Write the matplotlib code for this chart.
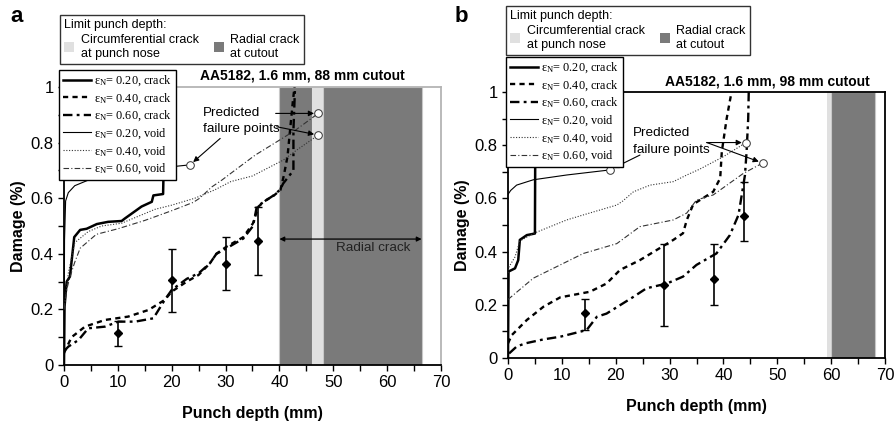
import matplotlib
matplotlib.use("Agg")
import matplotlib.pyplot as plt
from matplotlib.lines import Line2D
from matplotlib.patches import Patch
from matplotlib.ticker import MultipleLocator

plt.rcParams['font.family'] = ['Liberation Sans', 'DejaVu Sans']
plt.rcParams['mathtext.fontset'] = 'custom'
plt.rcParams['mathtext.rm'] = 'Liberation Serif'
plt.rcParams['mathtext.it'] = 'Liberation Serif:italic'

# ---------------- Panel a data (88 mm cutout) ----------------
a_crack20_x = [0, 0.1, 0.5, 1.1, 1.9, 3.0, 4.2, 6.1, 8.2, 10.7, 11.3, 14.4, 16.3, 16.6, 18.4, 18.6, 18.7]
a_crack20_y = [0, 0.21, 0.30, 0.318, 0.46, 0.486, 0.49, 0.507, 0.515, 0.518, 0.527, 0.57, 0.587, 0.61, 0.615, 0.80, 1.0]
a_crack40_x = [0, 1.4, 3.9, 7.6, 11.9, 15.7, 18.7, 20, 22.8, 25, 27.1, 28.3, 30.2, 33.3, 35.1, 36.1, 37.6, 39, 40.2, 40.8, 41.5, 42.0, 42.5, 42.8]
a_crack40_y = [0.043, 0.10, 0.138, 0.162, 0.174, 0.198, 0.234, 0.264, 0.30, 0.324, 0.366, 0.40, 0.426, 0.46, 0.51, 0.57, 0.594, 0.61, 0.63, 0.68, 0.75, 0.85, 0.95, 1.0]
a_crack60_x = [0, 0.8, 2.7, 4.5, 7.6, 10.1, 13.2, 16.6, 18.7, 20, 22.8, 25, 27.1, 28.3, 30.2, 33.3, 35.1, 35.8, 38.9, 40.1, 40.7, 42.6, 42.6, 42.9]
a_crack60_y = [0.05, 0.066, 0.09, 0.132, 0.138, 0.156, 0.156, 0.168, 0.234, 0.27, 0.31, 0.33, 0.366, 0.40, 0.42, 0.455, 0.50, 0.57, 0.61, 0.63, 0.653, 0.70, 0.845, 1.0]
a_void20_x = [0, 0.1, 0.3, 0.8, 2, 4.5, 10.7, 16.9, 23.4]
a_void20_y = [0, 0.45, 0.59, 0.62, 0.645, 0.665, 0.687, 0.707, 0.72]
a_void40_x = [0, 0.3, 0.8, 2, 4.5, 7, 10.7, 16.9, 20, 24.3, 28, 31, 35, 37, 40.7, 43.2, 47.2]
a_void40_y = [0.2, 0.25, 0.33, 0.44, 0.48, 0.50, 0.51, 0.56, 0.575, 0.60, 0.63, 0.66, 0.68, 0.70, 0.737, 0.773, 0.827]
a_void60_x = [0, 0.5, 1, 2, 3, 6, 10, 15, 20, 24, 25.2, 27.4, 29.3, 31.7, 35.5, 40.1, 43, 47.2]
a_void60_y = [0.2, 0.27, 0.31, 0.37, 0.42, 0.47, 0.49, 0.52, 0.555, 0.585, 0.60, 0.64, 0.665, 0.70, 0.755, 0.81, 0.845, 0.905]
a_exp_x = [10, 20, 30, 36]
a_exp_y = [0.114, 0.306, 0.364, 0.447]
a_exp_lo = [0.068, 0.19, 0.27, 0.323]
a_exp_hi = [0.16, 0.418, 0.462, 0.57]
a_fail_x = [23.4, 47.2, 47.2]
a_fail_y = [0.72, 0.905, 0.827]
a_radial_band = [(40, 46), (48, 66.4)]
a_circ_band = [(46, 48)]

# ---------------- Panel b data (98 mm cutout) ----------------
b_crack20_x = [0, 0.1, 1.3, 1.9, 2.2, 3.5, 5.0, 5.1]
b_crack20_y = [0, 0.325, 0.337, 0.368, 0.444, 0.462, 0.468, 1.0]
b_crack40_x = [0, 0.7, 3.5, 6.6, 9.7, 15.2, 18.3, 20.8, 24.5, 27.6, 30.7, 32.5, 33.2, 34.4, 38.1, 39.4, 39.7, 40.6, 41.5]
b_crack40_y = [0.055, 0.086, 0.143, 0.193, 0.228, 0.249, 0.28, 0.331, 0.368, 0.406, 0.444, 0.469, 0.519, 0.578, 0.625, 0.676, 0.776, 0.90, 1.0]
b_crack60_x = [0.2, 1.6, 3.2, 6.6, 9.7, 14.6, 16.5, 18.3, 23.3, 25.7, 29.5, 32.5, 35, 38.7, 41.2, 42.8, 43.4, 44, 44.3, 44.6, 44.7]
b_crack60_y = [0.017, 0.043, 0.055, 0.07, 0.08, 0.105, 0.155, 0.167, 0.23, 0.262, 0.28, 0.306, 0.35, 0.393, 0.462, 0.538, 0.613, 0.688, 0.776, 0.90, 1.0]
b_void20_x = [0, 0.5, 1.6, 4.7, 10.9, 18.9]
b_void20_y = [0.615, 0.63, 0.65, 0.67, 0.688, 0.707]
b_void40_x = [0, 0.2, 1.3, 2.2, 4.7, 10.9, 14, 20.2, 21.3, 23.3, 26.4, 30.7, 33.2, 35.6, 40, 44.2]
b_void40_y = [0.32, 0.343, 0.38, 0.44, 0.468, 0.519, 0.538, 0.575, 0.59, 0.625, 0.65, 0.663, 0.688, 0.71, 0.757, 0.81]
b_void60_x = [0, 4.7, 9, 14, 20.2, 24.5, 30.7, 33.2, 35, 38.1, 43.7, 47.3]
b_void60_y = [0.22, 0.30, 0.343, 0.393, 0.43, 0.494, 0.519, 0.545, 0.594, 0.613, 0.694, 0.733]
b_exp_x = [14.35, 29.0, 38.3, 43.8]
b_exp_y = [0.17, 0.274, 0.296, 0.535]
b_exp_lo = [0.105, 0.12, 0.20, 0.439]
b_exp_hi = [0.22, 0.43, 0.427, 0.663]
b_fail_x = [18.9, 44.2, 47.3]
b_fail_y = [0.707, 0.81, 0.733]
b_radial_band = [(60, 68.1)]
b_circ_band = [(59.3, 60)]

labels = [r'ε$_{\mathrm{N}}$= 0.20, crack', r'ε$_{\mathrm{N}}$= 0.40, crack', r'ε$_{\mathrm{N}}$= 0.60, crack',
          r'ε$_{\mathrm{N}}$= 0.20, void', r'ε$_{\mathrm{N}}$= 0.40, void', r'ε$_{\mathrm{N}}$= 0.60, void']

DARK = '#7a7a7a'
LIGHT = '#e0e0e0'

styles = [
    dict(color='k', lw=1.8, ls='-'),
    dict(color='k', lw=1.7, ls=(0, (2.2, 1.8))),
    dict(color='k', lw=1.7, ls=(0, (4, 1.8, 1.2, 1.8))),
    dict(color='k', lw=0.8, ls='-'),
    dict(color='#333333', lw=0.8, ls=(0, (1, 1.5))),
    dict(color='#333333', lw=0.8, ls=(0, (5, 2, 1, 2))),
]

fig = plt.figure(figsize=(8.94, 4.25), dpi=100)
axa = fig.add_axes([64/894, 1-365/425, 377/894, 278/425])
axb = fig.add_axes([508/894, 1-358/425, 377/894, 266/425])


def draw(ax, series, exp, fail, radial, circ, spine_color, xpad):
    for lo, hi in radial:
        ax.axvspan(lo, hi, facecolor=DARK, edgecolor='#c8c8c8', lw=0.8, zorder=0)
    for lo, hi in circ:
        ax.axvspan(lo, hi, facecolor=LIGHT, edgecolor='none', zorder=0)
    for (x, y), st in zip(series, styles):
        ax.plot(x, y, zorder=3, **st)
    ex, ey, elo, ehi = exp
    yerr = [[v - l for v, l in zip(ey, elo)], [h - v for v, h in zip(ey, ehi)]]
    ax.errorbar(ex, ey, yerr=yerr, fmt='D', ms=4, color='k', ecolor='k',
                elinewidth=1.2, capsize=3, capthick=1.0, zorder=5)
    ax.plot(fail[0], fail[1], 'o', ms=5.5, mfc='white', mec='#333333', mew=0.7, zorder=6)
    ax.set_xlim(0, 70)
    ax.set_ylim(0, 1)
    ax.xaxis.set_major_locator(MultipleLocator(10))
    ax.xaxis.set_minor_locator(MultipleLocator(5))
    ax.yaxis.set_major_locator(MultipleLocator(0.2))
    ax.yaxis.set_minor_locator(MultipleLocator(0.1))
    ax.set_yticks([0, 0.2, 0.4, 0.6, 0.8, 1.0])
    ax.set_yticklabels(['0', '0.2', '0.4', '0.6', '0.8', '1'])
    ax.tick_params(which='both', direction='out', labelsize=12, width=1.0,
                   top=False, right=False)
    ax.tick_params(which='major', length=4)
    ax.tick_params(which='minor', length=4)
    for s in ['left', 'bottom']:
        ax.spines[s].set_color('k')
        ax.spines[s].set_linewidth(1.3)
    for s in ['top', 'right']:
        ax.spines[s].set_color(spine_color)
        ax.spines[s].set_linewidth(1.3)
    ax.set_xlabel('Punch depth (mm)', fontsize=11.5, fontweight='bold', labelpad=xpad)
    ax.set_ylabel('Damage (%)', fontsize=11.5, fontweight='bold', labelpad=3)


draw(axa, [(a_crack20_x, a_crack20_y), (a_crack40_x, a_crack40_y), (a_crack60_x, a_crack60_y),
           (a_void20_x, a_void20_y), (a_void40_x, a_void40_y), (a_void60_x, a_void60_y)],
     (a_exp_x, a_exp_y, a_exp_lo, a_exp_hi), (a_fail_x, a_fail_y),
     a_radial_band, a_circ_band, '#b4b4b4', 11)
draw(axb, [(b_crack20_x, b_crack20_y), (b_crack40_x, b_crack40_y), (b_crack60_x, b_crack60_y),
           (b_void20_x, b_void20_y), (b_void40_x, b_void40_y), (b_void60_x, b_void60_y)],
     (b_exp_x, b_exp_y, b_exp_lo, b_exp_hi), (b_fail_x, b_fail_y),
     b_radial_band, b_circ_band, 'k', 11)

arrow = dict(arrowstyle='-|>', lw=0.8, color='k', mutation_scale=8, shrinkA=0, shrinkB=3)

# Panel a annotations
axa.text(25.8, 0.905, 'Predicted', fontsize=9.7, va='center', ha='left')
axa.text(25.8, 0.850, 'failure points', fontsize=9.7, va='center', ha='left')
axa.annotate('', xy=(a_fail_x[1], a_fail_y[1]), xytext=(39.3, 0.905), arrowprops=arrow)
axa.annotate('', xy=(a_fail_x[2], a_fail_y[2]), xytext=(39.5, 0.857), arrowprops=arrow)
axa.annotate('', xy=(a_fail_x[0], a_fail_y[0]), xytext=(29.0, 0.815), arrowprops=arrow)
axa.annotate('', xy=(66.4, 0.453), xytext=(40, 0.453),
             arrowprops=dict(arrowstyle='<|-|>', lw=0.9, color='k', mutation_scale=7,
                             shrinkA=0, shrinkB=0))
axa.text(57.4, 0.42, 'Radial crack', fontsize=9.7, ha='center', va='center', color='#222222')

# Panel b annotations
axb.text(23.2, 0.846, 'Predicted', fontsize=9.7, va='center', ha='left')
axb.text(23.2, 0.782, 'failure points', fontsize=9.7, va='center', ha='left')
axb.annotate('', xy=(b_fail_x[1], b_fail_y[1]), xytext=(36.9, 0.81), arrowprops=arrow)
axb.annotate('', xy=(b_fail_x[2], b_fail_y[2]), xytext=(36.9, 0.81), arrowprops=arrow)
axb.annotate('', xy=(b_fail_x[0], b_fail_y[0]), xytext=(24.5, 0.763), arrowprops=arrow)

# Titles
fig.text(405/894, 1-76/425, 'AA5182, 1.6 mm, 88 mm cutout', fontsize=10, fontweight='bold',
         ha='right', va='center')
fig.text(870/894, 1-82/425, 'AA5182, 1.6 mm, 98 mm cutout', fontsize=10, fontweight='bold',
         ha='right', va='center')
fig.text(10/894, 1-16/425, 'a', fontsize=16, fontweight='bold', ha='left', va='center')
fig.text(455/894, 1-16/425, 'b', fontsize=16, fontweight='bold', ha='left', va='center')

# Legends
band_handles = [Patch(facecolor=LIGHT, edgecolor='none'), Patch(facecolor=DARK, edgecolor='none')]
band_labels = ['Circumferential crack\nat punch nose', 'Radial crack\nat cutout']
line_handles = [Line2D([], [], **st) for st in styles]

for (x0, ytop), (lx0, lytop) in [((60, 15), (59, 70)), ((506, 6), (506, 57))]:
    lg = fig.legend(band_handles, band_labels, loc='upper left', ncol=2,
                    bbox_to_anchor=(x0/894, 1-ytop/425), borderaxespad=0,
                    title='Limit punch depth:', title_fontsize=9, alignment='left',
                    fontsize=9, frameon=True, fancybox=False, edgecolor='k',
                    handlelength=0.8, handleheight=0.8, handletextpad=0.5,
                    columnspacing=1.2, borderpad=0.35, labelspacing=0.2)
    lg.get_frame().set_linewidth(1.0)
    lg2 = fig.legend(line_handles, labels, loc='upper left',
                     bbox_to_anchor=(lx0/894, 1-lytop/425), borderaxespad=0,
                     prop={'family': 'Liberation Serif', 'size': 8.8},
                     frameon=True, fancybox=False, edgecolor='k', framealpha=1,
                     handlelength=2.3, handletextpad=0.3, borderpad=0.3,
                     labelspacing=0.25)
    lg2.get_frame().set_linewidth(1.0)

fig.savefig('out.png', dpi=100)
